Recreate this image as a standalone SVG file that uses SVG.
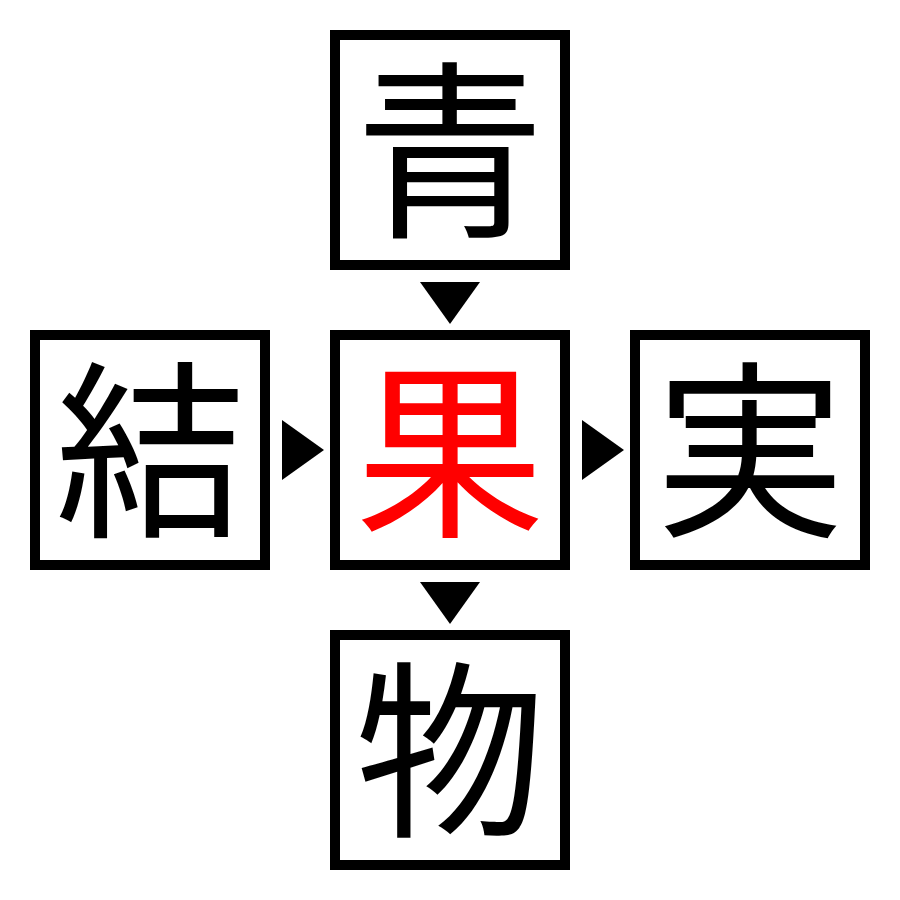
<svg xmlns="http://www.w3.org/2000/svg" width="900" height="900" viewBox="0 0 900 900">
<style>
.box{fill:#fff;stroke:#000;stroke-width:10}
.ch{font-family:"Noto Sans CJK JP","Noto Sans CJK SC",sans-serif;font-size:190px;text-anchor:middle;fill:#000}
.red{fill:#ff0000}
.arr{fill:#000}
</style>
<rect width="900" height="900" fill="#fff"/>
<g id="node-top"><rect class="box" x="335" y="35" width="230" height="230"/><text class="ch" x="450" y="222">青</text></g>
<g id="node-left"><rect class="box" x="35" y="335" width="230" height="230"/><text class="ch" x="150" y="522">結</text></g>
<g id="node-center"><rect class="box" x="335" y="335" width="230" height="230"/><text class="ch red" x="450" y="522">果</text></g>
<g id="node-right"><rect class="box" x="635" y="335" width="230" height="230"/><text class="ch" x="750" y="522">実</text></g>
<g id="node-bottom"><rect class="box" x="335" y="635" width="230" height="230"/><text class="ch" x="450" y="822">物</text></g>
<g id="connectors">
<polygon class="arr" points="420,282 480,282 450,324"/>
<polygon class="arr" points="420,582 480,582 450,624"/>
<polygon class="arr" points="282,420 282,480 324,450"/>
<polygon class="arr" points="582,420 582,480 624,450"/>
</g>
</svg>
